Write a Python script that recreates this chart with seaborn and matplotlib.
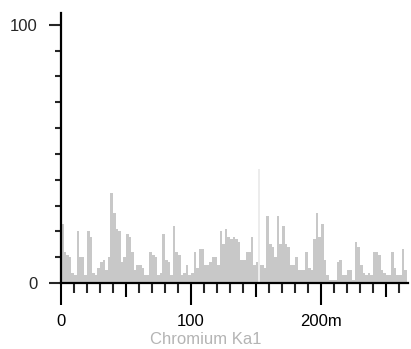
import numpy as np
import pandas as pd
import matplotlib
matplotlib.use("Agg")
import matplotlib.pyplot as plt
import seaborn as sns

# spectrum counts, one value per 2-unit channel starting at 0
energy = np.arange(0, 266, 2)
counts = [23, 12, 11, 10, 4, 3, 20, 10, 10, 3,
          20, 18, 4, 3, 6, 8, 9, 5, 10, 35,
          27, 21, 20, 8, 10, 19, 18, 12, 5, 7,
          7, 6, 3, 3, 12, 11, 10, 3, 4, 19,
          9, 8, 3, 22, 12, 11, 3, 4, 7, 3,
          4, 12, 6, 13, 13, 7, 7, 8, 10, 10,
          7, 20, 15, 21, 18, 17, 18, 17, 16, 9,
          9, 12, 12, 18, 7, 8, 7, 7, 6, 26,
          15, 14, 10, 26, 15, 22, 15, 14, 7, 7,
          10, 5, 5, 5, 12, 6, 5, 17, 27, 18,
          23, 9, 3, 1, 1, 1, 8, 9, 3, 3,
          5, 5, 1, 16, 14, 7, 4, 3, 4, 3,
          12, 12, 11, 5, 4, 3, 3, 12, 6, 3,
          3, 13, 5]
# faint spike
spike_pos = [152]
spike_val = [44]

df = pd.DataFrame({"energy": energy + 1.0, "counts": counts})
spike = pd.DataFrame({"energy": spike_pos, "counts": spike_val})

sns.set_style("ticks")
plt.rcParams['font.family'] = ['Liberation Sans', 'DejaVu Sans']

fig = plt.figure(figsize=(4.11, 3.49), dpi=100)
ax = fig.add_axes([61 / 411, 1 - 283 / 349, 347 / 411, 270 / 349])

sns.histplot(data=df, x="energy", weights="counts", binwidth=2, binrange=(0, 266),
             color="#c8c8c8", alpha=1, linewidth=0, ax=ax)
sns.histplot(data=spike, x="energy", weights="counts", binwidth=1.5,
             binrange=(151.25, 152.75),
             color="#ececec", alpha=1, linewidth=0, ax=ax)

ax.set_xlim(0, 267)
ax.set_ylim(0, 104.6)
sns.despine(ax=ax)
for s in ["left", "bottom"]:
    ax.spines[s].set_linewidth(1.6)
    ax.spines[s].set_color("black")

ax.set_xticks([0, 50, 100, 150, 200, 250])
ax.set_xticklabels(["0", "", "100", "", "200m", ""])
ax.set_xticks(np.arange(0, 268, 10), minor=True)
ax.set_yticks([0, 100])
ax.set_yticks(np.arange(0, 101, 10), minor=True)

ax.tick_params(axis="x", which="major", direction="out", length=10, width=1.5,
               pad=12, labelsize=12, colors="black")
ax.tick_params(axis="x", which="minor", direction="out", length=7.2, width=1.5)
ax.tick_params(axis="y", which="major", direction="out", length=8.6, width=1.5,
               pad=8, labelsize=12)
ax.tick_params(axis="y", which="minor", direction="out", length=4.3, width=1.5)
for t, v in zip(ax.xaxis.get_major_ticks(), [0, 50, 100, 150, 200, 250]):
    if v % 100 == 0:
        t.tick1line.set_markersize(15.8)

ax.set_xlabel("Chromium Ka1", color="#b4b4b4", fontsize=12)
ax.set_ylabel("")
ax.xaxis.set_label_coords(145 / 347, -49 / 270)

fig.savefig("out.png", dpi=100)
